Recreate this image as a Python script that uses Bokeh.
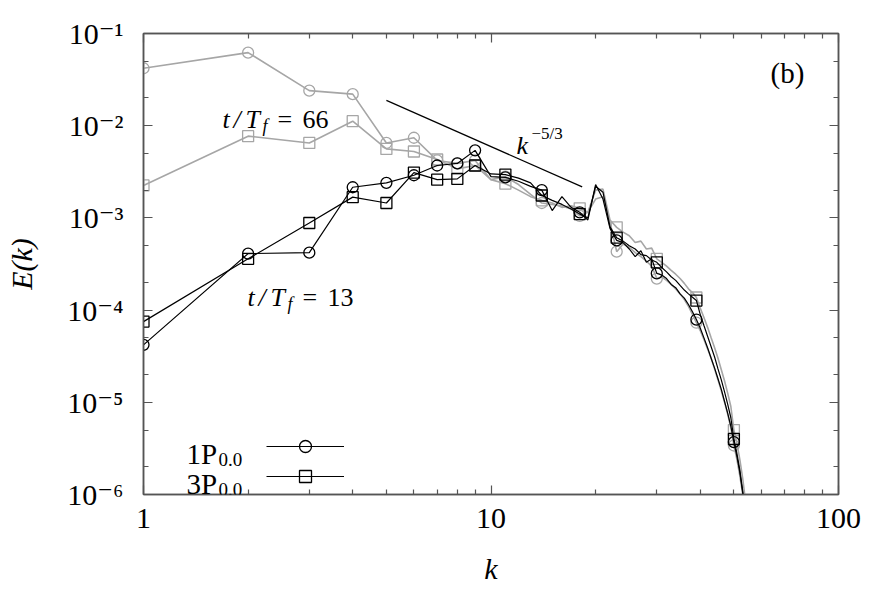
from bokeh.plotting import figure
from bokeh.models import (LogAxis, Label, Legend, LegendItem, FixedTicker,
                          CustomJSTickFormatter, Range1d)
from bokeh.embed import file_html
from bokeh.resources import INLINE

# ---------------- data ----------------
k = list(range(1, 56))
marker_k = [1, 2, 3, 4, 5, 6, 7, 8, 9, 11, 14, 18, 23, 30, 39, 50]

# 1P_0.0 at t/T_f = 13 (black circles)
e_1p_t13 = [4.2e-5, 4.1e-4, 4.2e-4, 2.15e-3, 2.4e-3, 2.9e-3, 3.7e-3, 3.9e-3, 5.4e-3, 2.8e-3,
            2.75e-3, 2.5e-3, 2.2e-3, 2.0e-3, 1.2e-3, 1.7e-3, 1.3e-3, 1.15e-3, 9.5e-4, 2.3e-3,
            1.6e-3, 7.7e-4, 5.7e-4, 5.4e-4, 4.6e-4, 3.8e-4, 4.4e-4, 3.3e-4, 3.6e-4, 2.5e-4,
            2.4e-4, 2.2e-4, 1.9e-4, 1.75e-4, 1.5e-4, 1.35e-4, 1.15e-4, 9.6e-5, 7.9e-5, 6.4e-5,
            5.0e-5, 3.9e-5, 3.0e-5, 2.35e-5, 1.8e-5, 1.38e-5, 1.02e-5, 7.6e-6, 5.5e-6, 3.7e-6,
            2.6e-6, 1.75e-6, 1.05e-6, 5.5e-7, 2.5e-7]
# 3P_0.0 at t/T_f = 13 (black squares)
e_3p_t13 = [7.5e-5, 3.6e-4, 8.8e-4, 1.68e-3, 1.45e-3, 3.1e-3, 2.6e-3, 2.65e-3, 3.7e-3, 3.0e-3,
            2.95e-3, 2.7e-3, 2.4e-3, 1.75e-3, 1.55e-3, 1.4e-3, 1.25e-3, 1.1e-3, 1.0e-3, 2.2e-3,
            1.9e-3, 8.0e-4, 6.1e-4, 5.6e-4, 5.0e-4, 4.6e-4, 4.0e-4, 3.9e-4, 3.5e-4, 3.3e-4,
            2.9e-4, 2.6e-4, 2.3e-4, 2.1e-4, 1.85e-4, 1.65e-4, 1.5e-4, 1.38e-4, 1.27e-4, 9.0e-5,
            6.8e-5, 5.2e-5, 4.0e-5, 3.1e-5, 2.3e-5, 1.75e-5, 1.3e-5, 9.5e-6, 6.8e-6, 4.0e-6,
            2.8e-6, 1.85e-6, 1.1e-6, 5.8e-7, 2.7e-7]
# 1P_0.0 at t/T_f = 66 (grey circles)
e_1p_t66 = [0.042, 0.062, 0.024, 0.022, 6.5e-3, 7.4e-3, 4.2e-3, 3.9e-3, 4.2e-3, 2.6e-3,
            2.8e-3, 2.3e-3, 1.8e-3, 1.45e-3, 1.4e-3, 1.35e-3, 1.25e-3, 1.05e-3, 1.15e-3, 1.6e-3,
            1.7e-3, 9.0e-4, 4.3e-4, 5.2e-4, 4.8e-4, 4.2e-4, 3.8e-4, 3.4e-4, 3.0e-4, 2.2e-4,
            2.3e-4, 2.1e-4, 1.9e-4, 1.7e-4, 1.5e-4, 1.3e-4, 1.1e-4, 9.0e-5, 7.3e-5, 6.0e-5,
            4.8e-5, 3.8e-5, 3.0e-5, 2.3e-5, 1.75e-5, 1.33e-5, 1.0e-5, 7.4e-6, 5.3e-6, 3.4e-6,
            2.4e-6, 1.6e-6, 1.0e-6, 5.5e-7, 2.6e-7]
# 3P_0.0 at t/T_f = 66 (grey squares)
e_3p_t66 = [2.25e-3, 7.7e-3, 6.5e-3, 0.0112, 5.6e-3, 5.25e-3, 4.3e-3, 3.4e-3, 3.7e-3, 2.6e-3,
            2.35e-3, 2.0e-3, 1.7e-3, 1.55e-3, 1.45e-3, 1.3e-3, 1.35e-3, 1.27e-3, 1.15e-3, 2.0e-3,
            2.05e-3, 9.5e-4, 7.9e-4, 7.0e-4, 6.4e-4, 5.4e-4, 5.6e-4, 4.6e-4, 4.7e-4, 3.6e-4,
            3.3e-4, 3.0e-4, 2.7e-4, 2.45e-4, 2.2e-4, 1.95e-4, 1.7e-4, 1.55e-4, 1.37e-4, 1.05e-4,
            8.3e-5, 6.5e-5, 5.0e-5, 3.9e-5, 3.0e-5, 2.25e-5, 1.7e-5, 1.25e-5, 9.0e-6, 5.0e-6,
            3.6e-6, 2.4e-6, 1.5e-6, 8.5e-7, 4.0e-7]

# k^{-5/3} reference segment
k_ref = [5.0, 18.3]
e_ref = [0.0188, 0.00217]

x_major = [1, 10, 100]
x_minor = [2, 3, 4, 5, 6, 7, 8, 9, 20, 30, 40, 50, 60, 70, 80, 90]
y_major = [1e-6, 1e-5, 1e-4, 1e-3, 1e-2, 1e-1]
y_minor = [m * d for d in [1e-6, 1e-5, 1e-4, 1e-3, 1e-2] for m in [2, 5]]

# ---------------- figure ----------------
FONT = "'Liberation Serif', 'DejaVu Serif', serif"
GREY = "#a6a6a6"
AX = "#555555"
L0, B0 = 143, 494  # frame left / bottom in page pixels

p = figure(width=886, height=591, x_axis_type="log", y_axis_type="log",
           x_range=Range1d(1, 100), y_range=Range1d(1e-6, 1e-1),
           output_backend="svg", toolbar_location=None,
           min_border_left=143, min_border_right=48, min_border_top=33, min_border_bottom=97)
p.xgrid.visible = False
p.ygrid.visible = False
p.outline_line_color = AX
p.outline_line_width = 1.5
p.background_fill_color = "white"
p.border_fill_color = "white"

xt = FixedTicker(ticks=x_major, minor_ticks=x_minor)
yt = FixedTicker(ticks=y_major, minor_ticks=y_minor)

ysup = CustomJSTickFormatter(code="""
const e = Math.round(Math.log10(tick));
const s = {"-":"\u207b","0":"\u2070","1":"\u00b9","2":"\u00b2","3":"\u00b3","4":"\u2074",
           "5":"\u2075","6":"\u2076","7":"\u2077","8":"\u2078","9":"\u2079"};
return "10" + String(e).split("").map(c => s[c]).join("");
""")
xfmt = CustomJSTickFormatter(code="return String(Math.round(tick));")

def style_axis(ax):
    ax.axis_line_color = AX
    ax.axis_line_width = 1.5
    ax.major_tick_line_color = AX
    ax.minor_tick_line_color = AX
    ax.major_tick_line_width = 1.2
    ax.minor_tick_line_width = 1.2
    ax.major_tick_in = 9
    ax.major_tick_out = 0
    ax.minor_tick_in = 5
    ax.minor_tick_out = 0
    ax.major_label_text_font = FONT
    ax.major_label_text_font_size = "30px"
    ax.major_label_text_color = "black"
    ax.axis_label_text_font = FONT
    ax.axis_label_text_font_size = "30px"
    ax.axis_label_text_font_style = "italic"
    ax.axis_label_text_color = "black"

xa = p.xaxis[0]
xa.ticker = xt
xa.formatter = xfmt
style_axis(xa)
xa.major_label_standoff = 14
xa.axis_label = "k"
xa.axis_label_standoff = 21

ya = p.yaxis[0]
ya.ticker = yt
ya.formatter = ysup
style_axis(ya)
ya.major_label_standoff = 20
ya.axis_label = "E(k)"
ya.axis_label_standoff = 26

top = LogAxis(ticker=xt)
right = LogAxis(ticker=yt)
for ax in (top, right):
    style_axis(ax)
    ax.major_label_text_font_size = "2px"
    ax.major_label_text_alpha = 0
    ax.major_label_standoff = 0
p.add_layout(top, "above")
p.add_layout(right, "right")

# ---------------- series ----------------
def mk(kk, ee):
    idx = [k.index(m) for m in marker_k]
    return [kk[i] for i in idx], [ee[i] for i in idx]

series = [
    (e_1p_t66, GREY, 1.6, "circle"),
    (e_3p_t66, GREY, 1.6, "square"),
    (e_1p_t13, "black", 1.2, "circle"),
    (e_3p_t13, "black", 1.2, "square"),
]
renderers = {}
for ee, col, lw, shape in series:
    ln = p.line(k, ee, line_color=col, line_width=lw)
    mx, my = mk(k, ee)
    sc = p.scatter(mx, my, marker=shape, size=11, line_color=col, line_width=1.3,
                   fill_color=None)
    renderers[(col, shape)] = (ln, sc)

p.line(k_ref, e_ref, line_color="black", line_width=1.2)

# ---------------- legend ----------------
legend = Legend(items=[
    LegendItem(label="1P", renderers=list(renderers[("black", "circle")])),
    LegendItem(label="3P", renderers=list(renderers[("black", "square")])),
], location=(266 - L0, B0 - 491), padding=0, margin=0, spacing=0,
    glyph_width=78, glyph_height=30, label_width=1, label_height=30,
    label_standoff=0, label_text_font_size="2px", label_text_alpha=0,
    border_line_color=None, background_fill_alpha=0)
p.add_layout(legend)

def lab(text, X, Y, size, style="normal", align="left", baseline="alphabetic"):
    p.add_layout(Label(x=X - L0, y=B0 - Y, x_units="screen", y_units="screen", text=text,
                       text_font=FONT, text_font_size=f"{size}px", text_font_style=style,
                       text_align=align, text_baseline=baseline, text_color="black"))

# legend texts
lab("1P", 186, 453, 29)
lab("0.0", 218, 459, 19)
lab("3P", 186, 483, 29)
lab("0.0", 218, 489, 19)

# annotations  t/T_f = 66  and  t/T_f = 13
for dx, base, num in [(0, 119, "66"), (25, 297, "13")]:
    lab("t", 222 + dx, base, 26, "italic")
    lab("/", 233 + dx, base, 26, "italic")
    lab("T", 245 + dx, base, 26, "italic")
    lab("f", 262 + dx, base + 6, 18, "italic")
    lab("=", 277 + dx, base, 26)
    lab(num, 302 + dx, base, 26)

lab("k", 516, 145, 26, "italic")
lab("\u22125/3", 531, 133, 17)

lab("(b)", 787, 72, 29, align="center", baseline="middle")

open("out.html", "w").write(file_html(p, INLINE))
